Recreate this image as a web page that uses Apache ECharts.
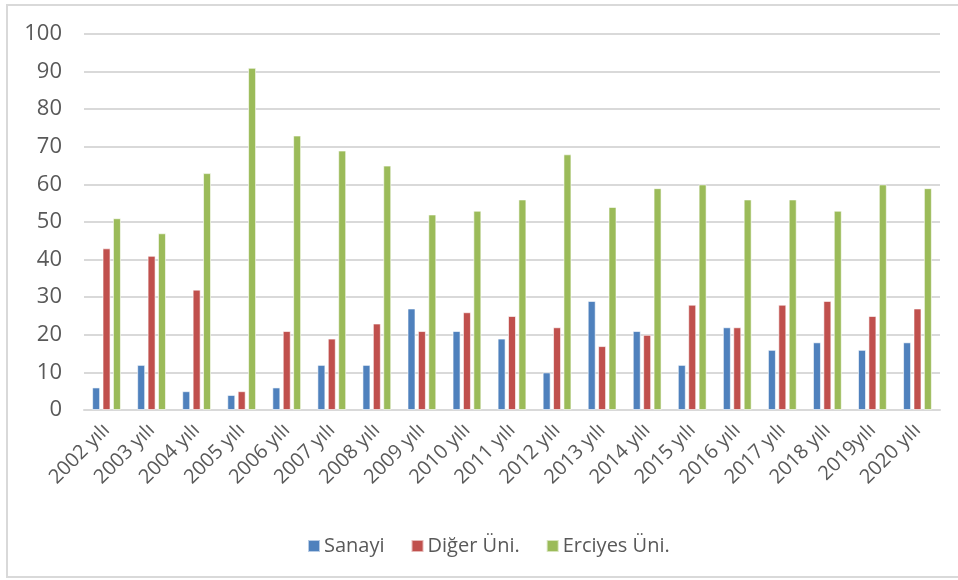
<!DOCTYPE html>
<html>
<head>
<meta charset="utf-8">
<script src="https://cdn.jsdelivr.net/npm/echarts@6/dist/echarts.min.js"></script>
<style>
html,body{margin:0;padding:0;background:#fff;}
#c{width:958px;height:580px;}
</style>
</head>
<body>
<div id="c"></div>
<script>
const categories = ['2002 yılı','2003 yılı','2004 yılı','2005 yılı','2006 yılı','2007 yılı','2008 yılı','2009 yılı','2010 yılı','2011 yılı','2012 yılı','2013 yılı','2014 yılı','2015 yılı','2016 yılı','2017 yılı','2018 yılı','2019yılı','2020 yılı'];
const sanayi  = [6,12,5,4,6,12,12,27,21,19,10,29,21,12,22,16,18,16,18];
const diger   = [43,41,32,5,21,19,23,21,26,25,22,17,20,28,22,28,29,25,27];
const erciyes = [51,47,63,91,73,69,65,52,53,56,68,54,59,60,56,56,53,60,59];
const seriesNames = ['Sanayi','Diğer Üni.','Erciyes Üni.'];
const colors = ['#4F81BD','#C0504D','#9BBB59'];

const FONT = '"Open Sans",sans-serif';
const chart = echarts.init(document.getElementById('c'));
const mk = (name, data, color) => ({
  name, type:'bar', data, barWidth:8, barGap:'30%',
  itemStyle:{color, borderColor:'rgba(255,255,255,0.6)', borderWidth:1},
  animation:false
});
chart.setOption({
  animation:false,
  color: colors,
  graphic:[{type:'rect', shape:{x:7,y:5,width:960,height:572}, style:{fill:'none', stroke:'#d9d9d9', lineWidth:2}, silent:true}],
  grid:{left:84, right:18, top:34, bottom:170, containLabel:false},
  legend:{
    data:seriesNames, bottom:19, left:302, itemWidth:12, itemHeight:12, itemGap:26,
    icon:'rect',
    textStyle:{color:'#595959', fontSize:20, fontFamily:FONT, padding:[0,0,0,-1]}
  },
  xAxis:{
    type:'category', data:categories,
    axisLine:{lineStyle:{color:'#d9d9d9', width:2}},
    axisTick:{show:false},
    axisLabel:{rotate:45, interval:0, color:'#595959', fontSize:20, fontFamily:FONT, margin:17}
  },
  yAxis:{
    type:'value', min:0, max:100, interval:10,
    axisLine:{show:false}, axisTick:{show:false},
    splitLine:{lineStyle:{color:'#d9d9d9', width:2}},
    axisLabel:{color:'#595959', fontSize:22, fontFamily:FONT, margin:22}
  },
  series:[mk(seriesNames[0], sanayi, colors[0]), mk(seriesNames[1], diger, colors[1]), mk(seriesNames[2], erciyes, colors[2])]
});
</script>
</body>
</html>
